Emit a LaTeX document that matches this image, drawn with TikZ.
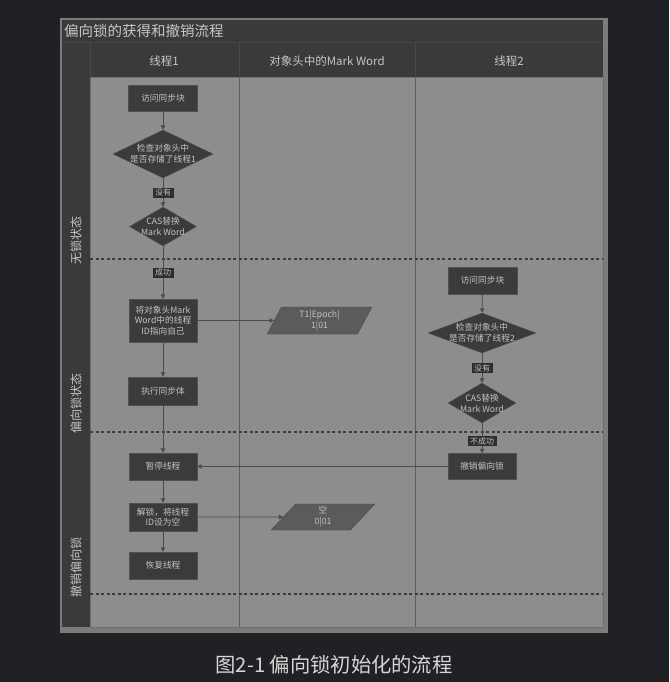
\documentclass[tikz,border=0pt]{standalone}
\usepackage{fontspec}
\setmainfont{Noto Sans CJK SC}
\usetikzlibrary{arrows.meta,shapes.geometric}
\definecolor{bg}{HTML}{202124}
\definecolor{frame}{HTML}{7C7C7C}
\definecolor{dark}{HTML}{3A3A3C}
\definecolor{darkline}{HTML}{47474A}
\definecolor{lane}{HTML}{8D8D8D}
\definecolor{laneline}{HTML}{6E6E6E}
\definecolor{sepc}{HTML}{5E5E5E}
\definecolor{boxfill}{HTML}{3B3B3B}
\definecolor{boxline}{HTML}{505050}
\definecolor{boxtext}{HTML}{C2C2C2}
\definecolor{parafill}{HTML}{5B5B5B}
\definecolor{paraline}{HTML}{454545}
\definecolor{tagfill}{HTML}{2E2E2E}
\definecolor{linec}{HTML}{4C4C4C}
\definecolor{dashc}{HTML}{3C3C3C}
\definecolor{headtext}{HTML}{C6C6C6}
\definecolor{captext}{HTML}{D6D6D6}
\tikzset{
  box/.style={draw=boxline, fill=boxfill, text=boxtext, font=\fontsize{8.7}{10.5}\selectfont, align=center, inner sep=0pt, minimum width=68pt, minimum height=27pt},
  dia/.style={diamond, draw=boxline, fill=boxfill, inner sep=0pt},
  dtxt/.style={text=boxtext, font=\fontsize{8.7}{11}\selectfont, align=center, inner sep=0pt},
  para/.style={trapezium, trapezium left angle=70, trapezium right angle=110, trapezium stretches=true, draw=paraline, fill=parafill, text=boxtext, font=\fontsize{8.7}{11}\selectfont, align=center, inner sep=0pt, minimum width=105pt, minimum height=27pt},
  tag/.style={fill=tagfill, text=boxtext, font=\fontsize{8}{9}\selectfont, inner xsep=2.5pt, inner ysep=0pt, minimum height=10pt},
  flow/.style={draw=linec, line width=0.8pt, -{Triangle[length=4.5pt,width=4.5pt]}},
  sepline/.style={draw=dashc, line width=1.8pt, dash pattern=on 3.3pt off 2.2pt},
  lanelbl/.style={rotate=90, text=headtext, font=\fontsize{12}{12}\selectfont, inner sep=0pt},
  head/.style={text=headtext, font=\fontsize{11.5}{12}\selectfont, inner sep=0pt}
}
\begin{document}
\begin{tikzpicture}[x=1pt,y=-1pt]
\useasboundingbox[fill=bg] (0,0) rectangle (669,682);
% frame and panels
\fill[frame] (60,18) rectangle (608,633);
\fill[dark] (62,20) rectangle (603,77);
\fill[dark] (62,77) rectangle (90,627);
\fill[lane] (90,77) rectangle (603,627);
\draw[laneline, line width=0.8pt] (90,77) rectangle (603,627);
\draw[darkline, line width=0.6pt] (62,42) -- (603,42);
\draw[darkline, line width=0.6pt] (90,42) -- (90,77);
\draw[darkline, line width=0.6pt] (239,42) -- (239,77);
\draw[darkline, line width=0.6pt] (415,42) -- (415,77);
\draw[sepc, line width=0.9pt] (239,77) -- (239,627);
\draw[sepc, line width=0.9pt] (415,77) -- (415,627);
% lane separators
\draw[sepline] (90,259) -- (603,259);
\draw[sepline] (90,432) -- (603,432);
\draw[sepline] (90,594) -- (603,594);
% title and headers
\node[anchor=west, text=headtext, font=\fontsize{14.5}{15}\selectfont, inner sep=0pt] (title) at (64,31) {偏向锁的获得和撤销流程};
\node[head] (h1) at (164,61) {线程1};
\node[head] (h2) at (327,61) {对象头中的Mark Word};
\node[head] (h3) at (509,61) {线程2};
\node[lanelbl] (l1) at (76,240) {无锁状态};
\node[lanelbl] (l2) at (76,403) {偏向锁状态};
\node[lanelbl] (l3) at (76,567) {撤销偏向锁};
% lane 1
\node[box, minimum width=69pt, minimum height=26pt] (b1) at (163,98) {访问同步块};
\node[dia, minimum width=100pt, minimum height=48pt] (d1) at (163,154) {};
\node[dtxt] (d1t) at (163,154) {检查对象头中\\是否存储了线程1};
\node[dia, minimum width=67pt, minimum height=39pt] (d2) at (163,226.5) {};
\node[dtxt] (d2t) at (163,226.5) {CAS替换\\Mark Word};
\node[box, minimum height=43pt] (b2) at (163,320.5) {将对象头Mark\\Word中的线程\\ID指向自己};
\node[box, minimum width=69pt, minimum height=28pt] (b3) at (163,391) {执行同步体};
\node[box] (b4) at (163,466.5) {暂停线程};
\node[box, minimum height=28pt] (b5) at (163,517) {解锁，将线程\\ID设为空};
\node[box] (b6) at (163,565.5) {恢复线程};
% mark word
\node[para] (p1) at (319.5,320.5) {T1|Epoch|\\1|01};
\node[para, minimum width=104pt, minimum height=26pt] (p2) at (323,517) {空\\0|01};
% lane 3
\node[box, minimum width=69pt] (c1) at (482.5,280.5) {访问同步块};
\node[dia, minimum width=108pt, minimum height=40pt] (e1) at (482,333) {};
\node[dtxt] (e1t) at (482,333) {检查对象头中\\是否存储了线程2};
\node[dia, minimum width=68pt, minimum height=40pt] (e2) at (482,403) {};
\node[dtxt] (e2t) at (482,403) {CAS替换\\Mark Word};
\node[box, minimum height=26pt] (c2) at (482,466.5) {撤销偏向锁};
% connectors
\draw[flow] (b1) -- (d1);
\draw[flow] (d1) -- node[tag] (t1) {没有} (d2);
\draw[flow] (d2) -- node[tag] (t2) {成功} (b2);
\draw[flow] (b2) -- (b3);
\draw[flow] (b2) -- (p1);
\draw[flow] (b3) -- (b4);
\draw[flow] (b4) -- (b5);
\draw[flow] (b5) -- (b6);
\draw[flow] (b5) -- (p2);
\draw[flow] (c1) -- (e1);
\draw[flow] (e1) -- node[tag] (t3) {没有} (e2);
\draw[flow] (e2) -- node[tag, pos=0.6] (t4) {不成功} (c2);
\draw[flow] (c2) -- (b4);
% caption
\node[text=captext, font=\fontsize{20.3}{21}\selectfont, inner sep=0pt] (cap) at (334,665) {图2-1 偏向锁初始化的流程};
\end{tikzpicture}
\end{document}
